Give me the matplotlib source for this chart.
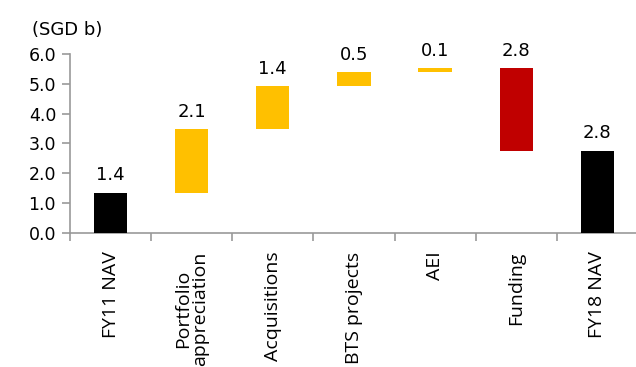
import matplotlib
matplotlib.use("Agg")
import matplotlib.pyplot as plt
import numpy as np

categories = ["FY11 NAV", "Portfolio\nappreciation", "Acquisitions", "BTS projects",
              "AEI", "Funding", "FY18 NAV"]
start_value = 1.35
changes = [2.14, 1.43, 0.47, 0.14, -2.77]
value_labels = ["1.4", "2.1", "1.4", "0.5", "0.1", "2.8", "2.8"]
yticks = [0.0, 1.0, 2.0, 3.0, 4.0, 5.0, 6.0]

end_value = start_value + sum(changes)
bottoms, heights, colors = [0.0], [start_value], ["#000000"]
level = start_value
for c in changes:
    if c >= 0:
        bottoms.append(level); heights.append(c); colors.append("#FFC000")
    else:
        bottoms.append(level + c); heights.append(-c); colors.append("#C00000")
    level += c
bottoms.append(0.0); heights.append(end_value); colors.append("#000000")

fig = plt.figure(figsize=(6.36, 3.67), dpi=100)
ax = fig.add_axes([0.110, 0.365, 0.893, 0.488])
x = np.arange(len(categories))
ax.bar(x, heights, bottom=bottoms, width=0.41, color=colors, zorder=3)
for xi, b, h, lab in zip(x, bottoms, heights, value_labels):
    ax.text(xi, b + h + 0.28, lab, ha="center", va="bottom", fontsize=13,
            family="DejaVu Sans")

ax.set_xlim(-0.5, len(categories) - 0.5)
ax.set_ylim(0, 6)
ax.set_yticks(yticks)
ax.set_yticklabels([f"{v:.1f}" for v in yticks], fontsize=12.5)
ax.set_xticks(np.arange(len(categories) + 1) - 0.5)
ax.set_xticklabels([])
for xi, cat in zip(x, categories):
    ax.text(xi, -0.62, cat, rotation=90, ha="center", va="top", fontsize=14,
            family="Open Sans", linespacing=0.9)
for s in ["top", "right"]:
    ax.spines[s].set_visible(False)
for s in ["left", "bottom"]:
    ax.spines[s].set_color("#999999")
    ax.spines[s].set_linewidth(1.2)
ax.tick_params(axis="both", colors="#999999", length=6, width=1.2, labelcolor="black")
ax.tick_params(axis="y", pad=4)
fig.text(0.05, 0.918, "(SGD b)", fontsize=13, va="center", ha="left")
fig.savefig("out.png", dpi=100)
